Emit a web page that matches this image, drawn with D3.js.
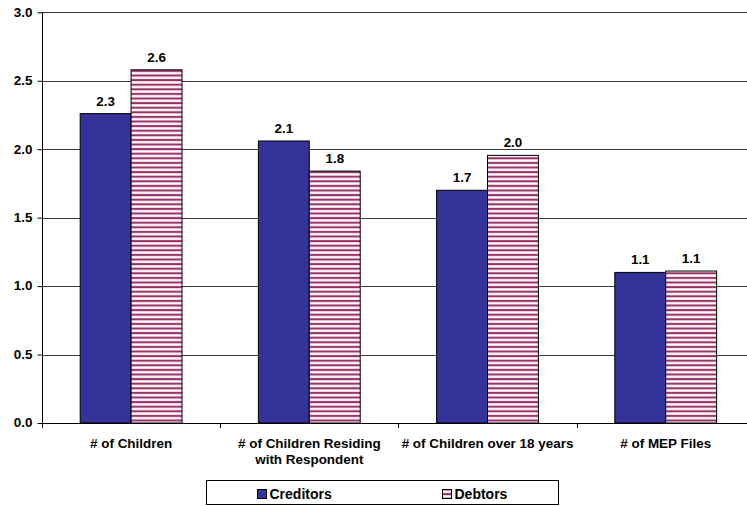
<!DOCTYPE html>
<html>
<head>
<meta charset="utf-8">
<script src="https://cdn.jsdelivr.net/npm/d3@7"></script>
<style>
  html, body { margin: 0; padding: 0; background: #fff; }
  svg { display: block; font-family: Arial, "Liberation Sans", sans-serif; }
</style>
</head>
<body>
<svg id="chart" width="747" height="506"></svg>
<script>
// Category names (multi-line labels split on "\n")
const categories = [
  "# of Children",
  "# of Children Residing\nwith Respondent",
  "# of Children over 18 years",
  "# of MEP Files"
];
const seriesNames = ["Creditors", "Debtors"];
const creditors = [2.26, 2.06, 1.70, 1.10];
const debtors = [2.58, 1.84, 1.955, 1.11];
const yTicks = [0, 0.5, 1.0, 1.5, 2.0, 2.5, 3.0];

const svg = d3.select("#chart");
const plotLeft = 42, plotTop = 12.3, plotBottom = 423;
const step = 178.2;
const textStretch = 1.12; // slightly wide lettering for the small labels

// place a text element at (x, y) with horizontal stretch around its anchor
function placeText(sel, x, y) {
  return sel.attr("x", 0).attr("y", 0)
    .attr("transform", `translate(${x},${y}) scale(${textStretch},1)`);
}

const defs = svg.append("defs");
const pat = defs.append("pattern")
  .attr("id", "stripes")
  .attr("patternUnits", "userSpaceOnUse")
  .attr("width", 8).attr("height", 4.6);
pat.append("rect").attr("width", 8).attr("height", 4.6).attr("fill", "#ffffff");
pat.append("rect").attr("y", 0.6).attr("width", 8).attr("height", 2.6).attr("fill", "#e0b3c8");
pat.append("rect").attr("y", 1.0).attr("width", 8).attr("height", 1.8).attr("fill", "#962f66");

const x0 = d3.scaleBand()
  .domain(categories)
  .range([plotLeft, plotLeft + step * categories.length])
  .paddingInner(0).paddingOuter(0);
const x1 = d3.scaleBand()
  .domain(seriesNames)
  .range([0, x0.bandwidth()])
  .paddingInner(0).paddingOuter(0.75);
const y = d3.scaleLinear().domain([0, 3]).range([plotBottom, plotTop]);

const fills = { Creditors: "#333399", Debtors: "url(#stripes)" };

// horizontal gridlines
svg.append("g").selectAll("line")
  .data(yTicks.filter(d => d > 0))
  .join("line")
  .attr("x1", plotLeft).attr("x2", plotLeft + step * categories.length)
  .attr("y1", d => Math.round(y(d)) + 0.5).attr("y2", d => Math.round(y(d)) + 0.5)
  .attr("stroke", "#3a3a3a").attr("stroke-width", 1);

// y axis
const yAxis = d3.axisLeft(y).tickValues(yTicks).tickFormat(d3.format(".1f"))
  .tickSize(5).tickPadding(4);
const gy = svg.append("g").attr("transform", `translate(${plotLeft + 0.5},0)`).call(yAxis);
gy.selectAll("text").attr("font-size", 12).attr("font-weight", "bold").attr("fill", "#000")
  .each(function () { placeText(d3.select(this), -10, 0); });
gy.selectAll("line, path").attr("stroke", "#000");
gy.select(".domain").attr("d", `M0,${plotTop}V${plotBottom}`);

// bars
const rows = categories.map((c, i) => ({ cat: c, vals: [
  { s: "Creditors", v: creditors[i] },
  { s: "Debtors", v: debtors[i] }
]}));

const groups = svg.append("g").selectAll("g")
  .data(rows).join("g")
  .attr("transform", d => `translate(${x0(d.cat)},0)`);

groups.selectAll("rect")
  .data(d => d.vals).join("rect")
  .attr("x", d => x1(d.s))
  .attr("y", d => y(d.v))
  .attr("width", x1.bandwidth())
  .attr("height", d => y(0) - y(d.v))
  .attr("fill", d => fills[d.s])
  .attr("stroke", "#000").attr("stroke-width", 1);

groups.selectAll("text.val")
  .data(d => d.vals).join("text")
  .attr("class", "val")
  .attr("text-anchor", "middle")
  .attr("font-size", 12).attr("font-weight", "bold")
  .text(d => d3.format(".1f")(d.v))
  .each(function (d) {
    placeText(d3.select(this), x1(d.s) + x1.bandwidth() / 2, y(d.v) - 8);
  });

// x axis
const xg = svg.append("g");
xg.append("line")
  .attr("x1", plotLeft).attr("x2", plotLeft + step * categories.length)
  .attr("y1", plotBottom + 0.5).attr("y2", plotBottom + 0.5)
  .attr("stroke", "#000");
xg.selectAll("line.tick")
  .data(d3.range(categories.length + 1))
  .join("line").attr("class", "tick")
  .attr("x1", i => Math.round(plotLeft + i * step) + 0.5)
  .attr("x2", i => Math.round(plotLeft + i * step) + 0.5)
  .attr("y1", plotBottom).attr("y2", plotBottom + 5)
  .attr("stroke", "#000");

const catLines = categories.flatMap(c =>
  c.split("\n").map((line, k) => ({ cat: c, line, k })));
xg.selectAll("text.cat")
  .data(catLines).join("text")
  .attr("class", "cat")
  .attr("text-anchor", "middle")
  .attr("font-size", 12).attr("font-weight", "bold")
  .text(d => d.line)
  .each(function (d) {
    placeText(d3.select(this), x0(d.cat) + x0.bandwidth() / 2, 447.5 + d.k * 16);
  });

// legend
const lg = svg.append("g");
lg.append("rect")
  .attr("x", 206.5).attr("y", 480.5).attr("width", 352).attr("height", 24)
  .attr("fill", "#fff").attr("stroke", "#000").attr("stroke-width", 1);
const legendItems = [
  { s: "Creditors", x: 257 },
  { s: "Debtors", x: 442 }
];
legendItems.forEach(it => {
  lg.append("rect")
    .attr("x", it.x + 0.5).attr("y", 489.5).attr("width", 9).attr("height", 9)
    .attr("fill", fills[it.s]).attr("stroke", "#000").attr("stroke-width", 1);
  lg.append("text")
    .attr("x", it.x + 12.5).attr("y", 498.5)
    .attr("font-size", 14).attr("font-weight", "bold")
    .text(it.s);
});
</script>
</body>
</html>
